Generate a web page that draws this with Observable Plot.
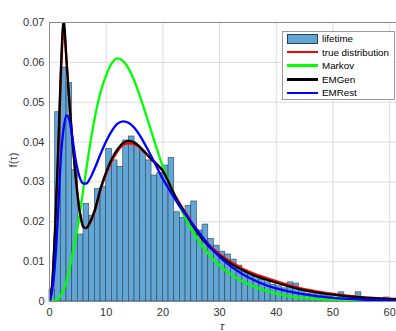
<!DOCTYPE html>
<html><head><meta charset="utf-8">
<script src="https://cdn.jsdelivr.net/npm/d3@7"></script>
<script src="https://cdn.jsdelivr.net/npm/@observablehq/plot@0.6"></script>
<style>
body{margin:0;background:#fff;font-family:"Liberation Sans",Arial,sans-serif;}
#wrap{position:relative;width:396px;height:331px;overflow:hidden;}
#legend{position:absolute;left:282px;top:31px;width:113px;height:69px;border:1px solid #9a9a9a;background:#fff;box-sizing:border-box;font-size:9.8px;color:#000;}
.row{position:absolute;left:4px;height:12px;display:flex;align-items:center;white-space:nowrap;}
.sw{width:31px;margin-right:4px;box-sizing:border-box;}
.lab{position:absolute;font-size:11px;color:#333;white-space:nowrap;}
</style></head><body><div id="wrap"></div>
<script>
// histogram bins of width 1 starting at 0
const binWidth = 1;
const binHeights = [0.003,0.0475,0.0587,0.0548,0.033,0.0168,0.0245,0.0215,0.0282,0.0288,
 0.0383,0.0354,0.0338,0.0404,0.0414,0.0391,0.0377,0.0354,0.0316,0.0322,
 0.0341,0.036,0.0224,0.021,0.024,0.0251,0.0178,0.0193,0.0157,0.014,
 0.0125,0.0118,0.0105,0.009,0.0078,0.007,0.0062,0.0055,0.0048,0.0042,
 0.0038,0.0033,0.0048,0.0045,0.0028,0.002,0.0018,0.0023,0.0015,0.0013,
 0.001,0.0023,0.0008,0.0014,0.0023,0.0006,0.0005,0.0004,0.0004,0.001,
 0.0003];

const tau = [0,0.5,1,1.5,2,2.5,3,3.5,4,4.5,5,5.5,6,6.5,7,8,9,10,11,12,13,14,15,16,17,18,19,20,21,22,24,26,28,30,32,34,36,38,40,45,50,55,60,62];

const trueDist = [0,0.0045,0.018,0.035,0.056,0.0685,0.0605,0.0502,0.0412,0.0332,0.0262,0.0212,0.0187,0.0184,0.0193,0.0227,0.028,0.032,0.0353,0.0377,0.0393,0.0397,0.0395,0.0385,0.0371,0.0356,0.0343,0.0328,0.0301,0.027,0.0223,0.0179,0.0144,0.0119,0.0099,0.0083,0.007,0.006,0.0051,0.0031,0.0019,0.0011,0.0007,0.0006];

const markov = [0,0,0.0003,0.0008,0.0015,0.003,0.005,0.008,0.0115,0.015,0.019,0.0237,0.0285,0.0333,0.038,0.0462,0.0525,0.0568,0.0598,0.061,0.0603,0.0583,0.0552,0.0513,0.047,0.0425,0.038,0.0338,0.0302,0.0268,0.0208,0.0158,0.012,0.009,0.0068,0.0051,0.0038,0.0028,0.002,0.0009,0.0004,0.0002,0.0001,0.0001];

const emGen = [0,0.005,0.019,0.037,0.058,0.0705,0.0605,0.05,0.041,0.033,0.026,0.0212,0.0186,0.0184,0.0195,0.023,0.0283,0.0325,0.0358,0.0382,0.0398,0.0403,0.0399,0.0387,0.0372,0.0357,0.0343,0.0328,0.03,0.0268,0.022,0.0175,0.014,0.0115,0.0095,0.0079,0.0066,0.0056,0.0047,0.0028,0.0017,0.001,0.0006,0.0005];

const emRest = [0,0.003,0.01,0.022,0.036,0.0435,0.0467,0.0455,0.0415,0.0365,0.0328,0.0305,0.0296,0.0296,0.0305,0.0335,0.037,0.0402,0.0428,0.0446,0.0452,0.0448,0.0435,0.0415,0.039,0.0363,0.0335,0.0307,0.0284,0.026,0.0218,0.018,0.0143,0.0112,0.0088,0.0069,0.0054,0.0042,0.0033,0.0018,0.0009,0.0005,0.0003,0.0002];

const seriesNames = ["true distribution","Markov","EMGen","EMRest"];
const seriesColors = ["#ff0000","#00ff00","#000000","#0000ff"];
const seriesValues = [trueDist, markov, emGen, emRest];
const histName = "lifetime";
const histFill = "#62a6d5";
const histStroke = "#2a4256";

const xTicks = [0,10,20,30,40,50,60];
const yTicks = [0,0.01,0.02,0.03,0.04,0.05,0.06,0.07];
const xLabel = "τ";
const yLabel = "f(τ)";

const bins = binHeights.map((h,i)=>({x1:i*binWidth, x2:(i+1)*binWidth, y:h}));
const lineData = seriesNames.map((name,s)=>tau.map((t,i)=>({t, v:seriesValues[s][i], name})));

const chart = Plot.plot({
  width: 396, height: 331,
  marginLeft: 49, marginRight: 0, marginTop: 22, marginBottom: 30,
  style: {fontFamily: '"Liberation Sans", Arial, sans-serif', fontSize: "11px", color: "#333", background: "#fff"},
  x: {domain: [0, 61.2]},
  y: {domain: [0, 0.07]},
  marks: [
    Plot.gridX(xTicks, {stroke: "#dcdcdc", strokeOpacity: 1}),
    Plot.gridY(yTicks, {stroke: "#dcdcdc", strokeOpacity: 1}),
    Plot.rectY(bins, {x1: "x1", x2: "x2", y: "y", fill: histFill, stroke: histStroke, strokeWidth: 0.7, strokeOpacity: 0.85, insetLeft: 0, insetRight: 0}),
    ...lineData.map((d,s)=>Plot.line(d, {x: "t", y: "v", stroke: seriesColors[s], strokeWidth: 2.3, curve: "monotone-x", clip: true})),
    Plot.frame({stroke: "#8a8a8a", strokeWidth: 1}),
    Plot.axisY(yTicks, {tickSize: 0, tickPadding: 5, tickFormat: d => d === 0 ? "0" : d.toFixed(2), label: null, fontSize: 11}),
    Plot.axisX(xTicks, {tickSize: 0, tickPadding: 7, label: null, fontSize: 11})
  ]
});
const wrap = document.getElementById("wrap");
wrap.appendChild(chart);

// axis labels
const yl = document.createElement("div");
yl.className = "lab"; yl.textContent = yLabel;
yl.style.left = "-3px"; yl.style.top = "154px"; yl.style.width = "32px"; yl.style.textAlign = "center";
yl.style.transform = "rotate(-90deg)";
wrap.appendChild(yl);
const xl = document.createElement("div");
xl.className = "lab"; xl.textContent = xLabel;
xl.style.left = "220px"; xl.style.top = "320px"; xl.style.fontStyle = "italic";
wrap.appendChild(xl);

// legend overlay
const legend = document.createElement("div");
legend.id = "legend";
const names = [histName, ...seriesNames];
names.forEach((n,i)=>{
  const row = document.createElement("div");
  row.className = "row";
  row.style.top = (0.5 + i*13.6) + "px";
  const sw = document.createElement("div");
  sw.className = "sw";
  if (i === 0) { sw.style.height = "10px"; sw.style.background = histFill; sw.style.border = "1px solid " + histStroke; }
  else { sw.style.height = "2.5px"; sw.style.background = seriesColors[i-1]; }
  const tx = document.createElement("span");
  tx.textContent = n;
  row.appendChild(sw); row.appendChild(tx);
  legend.appendChild(row);
});
wrap.appendChild(legend);
</script>
</body></html>
